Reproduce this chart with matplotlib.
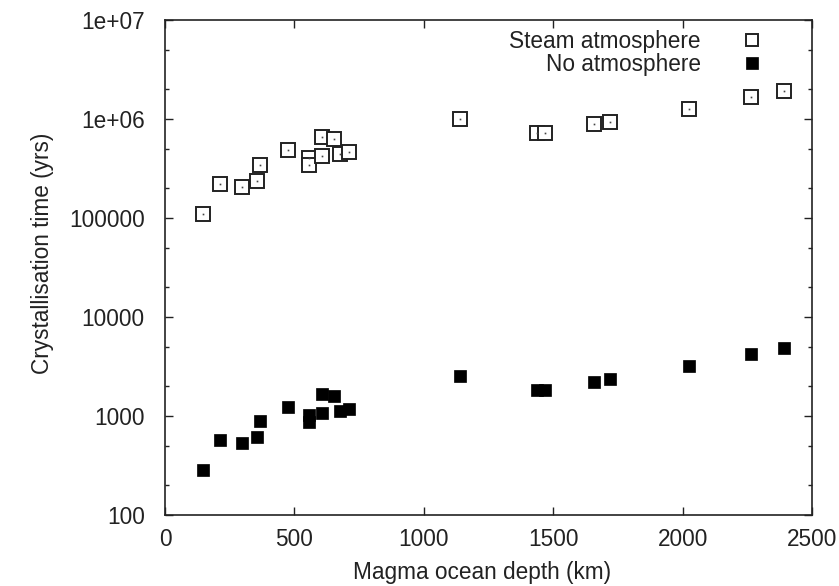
import matplotlib
matplotlib.use("Agg")
import matplotlib.pyplot as plt
from matplotlib.ticker import FixedLocator, FixedFormatter, LogLocator, NullFormatter

plt.rcParams['font.family'] = ['Liberation Sans', 'DejaVu Sans']

# Magma ocean depth (km)
depth = [146, 214, 299, 354, 366, 476, 556, 556, 607, 607, 654, 677, 710,
         1138, 1438, 1470, 1657, 1720, 2023, 2266, 2391]
# Crystallisation time with a steam atmosphere (yrs)
t_steam = [109e3, 219e3, 206e3, 238e3, 343e3, 481e3, 402e3, 345e3, 662e3, 425e3,
           621e3, 446e3, 463e3, 998e3, 726e3, 726e3, 881e3, 938e3, 1.27e6, 1.66e6, 1.94e6]
# Crystallisation time without an atmosphere (yrs)
t_none = [284, 566, 532, 607, 881, 1227, 1019, 874, 1687, 1084, 1575, 1117, 1172,
          2535, 1820, 1849, 2230, 2366, 3200, 4200, 4900]

x_ticks = [0, 500, 1000, 1500, 2000, 2500]
y_ticks = [100, 1000, 10000, 100000, 1e6, 1e7]
y_tick_labels = ["100", "1000", "10000", "100000", "1e+06", "1e+07"]

FS = 16.3
INK = '#222222'

fig = plt.figure(figsize=(8.39, 5.86), dpi=100)
ax = fig.add_axes([165/839, 1 - 515/586, (812 - 165)/839, (515 - 20)/586])

ax.set_yscale('log')
ax.set_xlim(0, 2500)
ax.set_ylim(100, 1e7)

ax.plot(depth, t_steam, linestyle='none', marker='s', markersize=9.5,
        markerfacecolor='white', markeredgecolor=INK, markeredgewidth=1.4,
        label='Steam atmosphere')
ax.plot(depth, t_steam, linestyle='none', marker='s', markersize=1.2,
        markerfacecolor='#444444', markeredgewidth=0)
ax.plot(depth, t_none, linestyle='none', marker='s', markersize=9,
        markerfacecolor='black', markeredgecolor='black', markeredgewidth=0.5,
        label='No atmosphere')

ax.xaxis.set_major_locator(FixedLocator(x_ticks))
ax.yaxis.set_major_locator(FixedLocator(y_ticks))
ax.yaxis.set_major_formatter(FixedFormatter(y_tick_labels))
ax.yaxis.set_minor_locator(LogLocator(base=10, subs=(2.0, 5.0)))
ax.yaxis.set_minor_formatter(NullFormatter())

ax.tick_params(which='both', direction='in', top=True, right=True,
               labelsize=FS, labelcolor=INK, width=1.0, color=INK)
ax.tick_params(axis='y', pad=14.5)
ax.tick_params(axis='x', pad=9.4)
ax.tick_params(which='major', length=6)
ax.tick_params(which='minor', length=3)
for s in ax.spines.values():
    s.set_linewidth(1.2)
    s.set_color(INK)

ax.set_xlabel('Magma ocean depth (km)', fontsize=FS, color=INK)
ax.set_ylabel('Crystallisation time (yrs)', fontsize=FS, color=INK)
ax.xaxis.set_label_coords(0.49, -0.117)
ax.yaxis.set_label_coords(-0.19, 0.529)
ax.xaxis.label.set_va('center')
ax.yaxis.label.set_va('center')

leg = ax.legend(loc='upper right', bbox_to_anchor=(0.926, 0.992), frameon=False,
                markerfirst=False, fontsize=FS, handlelength=0.6,
                handletextpad=1.95, labelspacing=0.0, borderaxespad=0.0,
                borderpad=0.25, markerscale=0.9)
for t in leg.get_texts():
    t.set_ha('right')
    t.set_color(INK)

fig.savefig('out.png', dpi=100)
